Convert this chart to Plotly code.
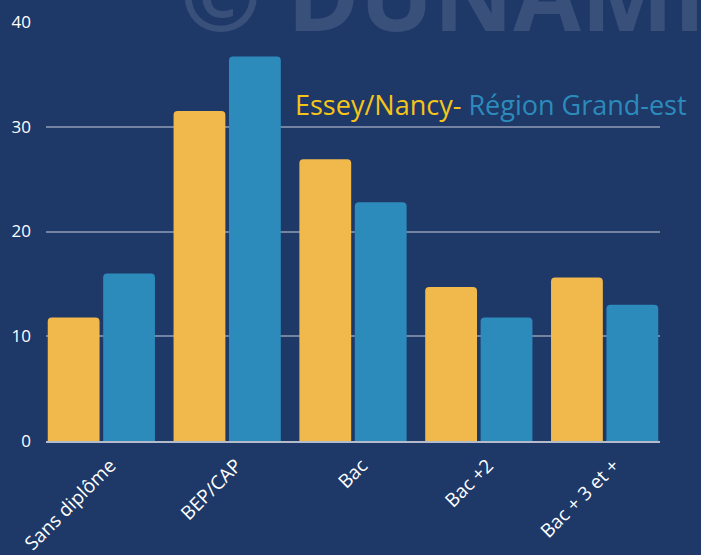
import plotly.graph_objects as go

# Niveau de diplôme (%) : Essey/Nancy vs Région Grand-est
categories = ["Sans diplôme", "BEP/CAP", "Bac", "Bac +2", "Bac + 3 et +"]
essey_nancy = [11.8, 31.5, 26.9, 14.7, 15.6]
grand_est = [16.0, 36.7, 22.8, 11.8, 13.0]
y_ticks = [0, 10, 20, 30, 40]

BG = "#1e3868"
YELLOW = "#f1b84b"
BLUE = "#2c8bbb"
FONT = "Open Sans"

fig = go.Figure()
fig.add_trace(go.Bar(x=categories, y=essey_nancy, name="Essey/Nancy",
                     marker=dict(color=YELLOW, cornerradius=4, line=dict(width=0))))
fig.add_trace(go.Bar(x=categories, y=grand_est, name="Région Grand-est",
                     marker=dict(color=BLUE, cornerradius=4, line=dict(width=0))))

fig.update_layout(
    width=701, height=555,
    paper_bgcolor=BG, plot_bgcolor=BG,
    margin=dict(l=46, r=41, t=22, b=114),
    barmode="group", bargap=0.119, bargroupgap=0.065,
    showlegend=False,
    font=dict(family=FONT, color="white", size=16),
    xaxis=dict(
        type="category", range=[-0.44, 4.44], automargin=False,
        tickangle=-45, tickfont=dict(size=19, color="white"),
        ticklabelshift=9, ticklabelstandoff=4,
        showgrid=False, showline=True, linecolor="#b4bccb", linewidth=2,
        ticks="", ticklen=0,
    ),
    yaxis=dict(
        range=[0, 40], tickvals=y_ticks, automargin=False,
        tickfont=dict(size=17, color="white"),
        gridcolor="rgba(255,255,255,0.38)", gridwidth=1.5,
        zeroline=False, showline=False, ticks="", ticklabelstandoff=14,
    ),
)

# Filigrane
fig.add_annotation(
    text="<b>© DUNAMIS</b>", xref="paper", yref="paper",
    x=0.215, y=0.905, xanchor="left", yanchor="bottom",
    showarrow=False,
    font=dict(family="Open Sans", size=98, color="rgba(255,255,255,0.12)"),
)

# Titre bicolore
fig.add_annotation(
    text=f"<span style='color:#f5c518'>Essey/Nancy-</span> <span style='color:{BLUE}'>Région Grand-est</span>",
    xref="paper", yref="paper", x=0.403, y=0.803,
    xanchor="left", yanchor="middle", showarrow=False,
    font=dict(family=FONT, size=27),
)

fig.write_html("out.html")
